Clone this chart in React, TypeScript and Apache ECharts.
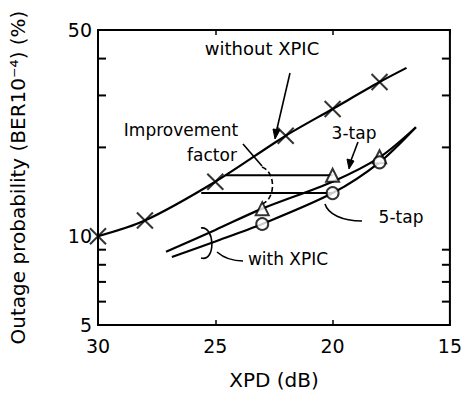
import React, { useEffect, useRef } from "react";
import * as echarts from "echarts";

// ---- data (x = XPD in dB, y = outage probability in %) ----
const withoutXpicLine: [number, number][] = [
  [30, 10], [28, 11.3], [25, 15.3], [22, 21.9], [20, 27.0], [18, 33.3], [16.85, 37.2],
];
const withoutXpicMarks: [number, number][] = [
  [30, 10], [28, 11.3], [25, 15.3], [22, 21.9], [20, 27.0], [18, 33.3],
];
const tap3Line: [number, number][] = [
  [27.1, 8.85], [25, 10.5], [23, 12.4], [20, 15.3], [18, 18.5], [16.45, 23.4],
];
const tap3Marks: [number, number][] = [[23, 12.4], [20, 16.1], [18, 18.6]];
const tap5Line: [number, number][] = [
  [26.85, 8.5], [25, 9.6], [23, 11.0], [20, 14.0], [18, 17.8], [16.45, 23.4],
];
const tap5Marks: [number, number][] = [[23, 11.0], [20, 14.0], [18, 17.8]];
const improveUpper: [number, number][] = [[24.55, 16.1], [20, 16.1]];
const improveLower: [number, number][] = [[25.6, 14.0], [20, 14.0]];
const yMinorTicks = [6, 7, 8, 9, 20, 30, 40];
const xTicks = { min: 15, max: 30, interval: 5 };
const yRange = { min: 5, max: 50 };

const FONT = '"DejaVu Sans", sans-serif';
const X_SYMBOL = "path://M0,0L10,10M10,0L0,10";

const txt = (text: string, x: number, y: number, size = 18) => ({
  type: "text",
  x,
  y,
  style: {
    text,
    font: `${size}px ${FONT}`,
    fill: "#000",
    textAlign: "center",
    textVerticalAlign: "middle",
    align: "center",
    verticalAlign: "middle",
  },
});
const ln = (x1: number, y1: number, x2: number, y2: number, w = 1.6, dash?: number[]) => ({
  type: "line",
  shape: { x1, y1, x2, y2 },
  style: { stroke: "#000", lineWidth: w, lineDash: dash },
});
const bez = (
  x1: number, y1: number, cx1: number, cy1: number, cx2: number, cy2: number,
  x2: number, y2: number, w = 1.6, dash?: number[]
) => ({
  type: "bezierCurve",
  shape: { x1, y1, cpx1: cx1, cpy1: cy1, cpx2: cx2, cpy2: cy2, x2, y2 },
  style: { stroke: "#000", fill: "none", lineWidth: w, lineDash: dash },
});
const head = (pts: number[][]) => ({
  type: "polygon",
  shape: { points: pts },
  style: { fill: "#000", stroke: "#000", lineWidth: 1 },
});

export default function App() {
  const ref = useRef<HTMLDivElement>(null);
  useEffect(() => {
    if (!ref.current) return;
    const chart = echarts.init(ref.current, undefined, { renderer: "svg" });
    const lineStyle = { color: "#000", width: 2.2 };
    const axisCommon = {
      type: "value",
      inverse: true,
      min: xTicks.min,
      max: xTicks.max,
      interval: xTicks.interval,
      splitLine: { show: false },
      axisLine: { show: true, lineStyle: { color: "#000", width: 2 } },
      axisTick: { show: true, inside: true, length: 5, lineStyle: { color: "#000", width: 1.5 } },
    };
    chart.setOption({
      animation: false,
      backgroundColor: "#fff",
      textStyle: { fontFamily: FONT, color: "#000" },
      grid: {
        left: 95, right: 13, top: 30, bottom: 68,
        show: true, borderColor: "#000", borderWidth: 2, backgroundColor: "transparent",
      },
      xAxis: [
        {
          ...axisCommon,
          position: "bottom",
          name: "XPD (dB)",
          nameLocation: "middle",
          nameGap: 45,
          nameTextStyle: { fontSize: 20, color: "#000", fontFamily: FONT },
          axisLabel: { fontSize: 19, color: "#000", margin: 11, fontFamily: FONT },
        },
        {
          ...axisCommon,
          position: "top",
          axisLabel: { show: false },
        },
      ],
      yAxis: [
        {
          type: "log",
          logBase: 10,
          min: yRange.min,
          max: yRange.max,
          name: "Outage probability (BER10⁻⁴) (%)",
          nameLocation: "middle",
          nameRotate: 90,
          nameGap: 70,
          nameTextStyle: { fontSize: 20, color: "#000", fontFamily: FONT },
          splitLine: { show: false },
          axisLine: { show: true, lineStyle: { color: "#000", width: 2 } },
          axisTick: { show: false },
          minorTick: { show: false },
          axisLabel: { fontSize: 19, color: "#000", margin: 6, fontFamily: FONT },
        },
      ],
      series: [
        {
          type: "line",
          data: withoutXpicLine,
          smooth: 0.3,
          symbol: "none",
          lineStyle,
          z: 2,
        },
        {
          type: "scatter",
          data: withoutXpicMarks,
          symbol: X_SYMBOL,
          symbolSize: 16,
          itemStyle: { color: "transparent", borderColor: "#000", borderWidth: 2 },
          z: 5,
        },
        {
          type: "line",
          data: tap3Line,
          smooth: 0.3,
          symbol: "none",
          lineStyle,
          z: 2,
        },
        {
          type: "line",
          data: tap5Line,
          smooth: 0.3,
          symbol: "none",
          lineStyle,
          z: 2,
        },
        {
          type: "line",
          data: improveUpper,
          symbol: "none",
          lineStyle: { color: "#000", width: 2 },
          z: 2,
        },
        {
          type: "line",
          data: improveLower,
          symbol: "none",
          lineStyle: { color: "#000", width: 2 },
          z: 2,
        },
        {
          type: "scatter",
          data: tap3Marks,
          symbol: "triangle",
          symbolSize: 13,
          itemStyle: { color: "#fff", borderColor: "#000", borderWidth: 2 },
          z: 6,
        },
        {
          type: "scatter",
          data: tap5Marks,
          symbol: "circle",
          symbolSize: 12,
          itemStyle: { color: "#fff", borderColor: "#000", borderWidth: 2 },
          z: 6,
        },
        {
          type: "custom",
          data: yMinorTicks.map((v) => [v]),
          renderItem: (params: any, api: any) => {
            const v = api.value(0);
            const pl = api.coord([xTicks.max, v]);
            const pr = api.coord([xTicks.min, v]);
            return {
              type: "group",
              children: [
                { type: "line", shape: { x1: pl[0], y1: pl[1], x2: pl[0] + 8, y2: pl[1] }, style: { stroke: "#000", lineWidth: 2 } },
                { type: "line", shape: { x1: pr[0], y1: pr[1], x2: pr[0] - 8, y2: pr[1] }, style: { stroke: "#000", lineWidth: 2 } },
              ],
            };
          },
          encode: { y: 0 },
          z: 3,
        },
      ],
      graphic: [
        txt("without XPIC", 262, 48),
        txt("Improvement", 181, 130, 17),
        txt("factor", 212, 155, 17),
        txt("3-tap", 354, 133, 17),
        txt("5-tap", 401, 217, 17),
        txt("with XPIC", 288, 259, 17),
        // without XPIC arrow
        ln(290, 73, 276, 133),
        head([[275, 139], [280, 130], [273, 129]]),
        // 3-tap arrow
        ln(358, 142, 350, 163),
        head([[349, 169], [354, 161], [347, 159]]),
        // improvement factor leader + bracket
        ln(243, 144, 262, 166),
        bez(262, 167, 276, 172, 276, 199, 262, 204, 1.6, [5, 3]),
        // 5-tap leader
        bez(325, 204, 328, 214, 342, 221, 362, 221),
        // with XPIC bracket + leader
        bez(201, 228, 215, 226, 216, 262, 201, 258),
        bez(217, 252, 225, 259, 233, 261, 243, 261),
      ],
    });
    return () => chart.dispose();
  }, []);
  return <div ref={ref} style={{ width: 465, height: 395, position: "absolute", left: 0, top: 0 }} />;
}
